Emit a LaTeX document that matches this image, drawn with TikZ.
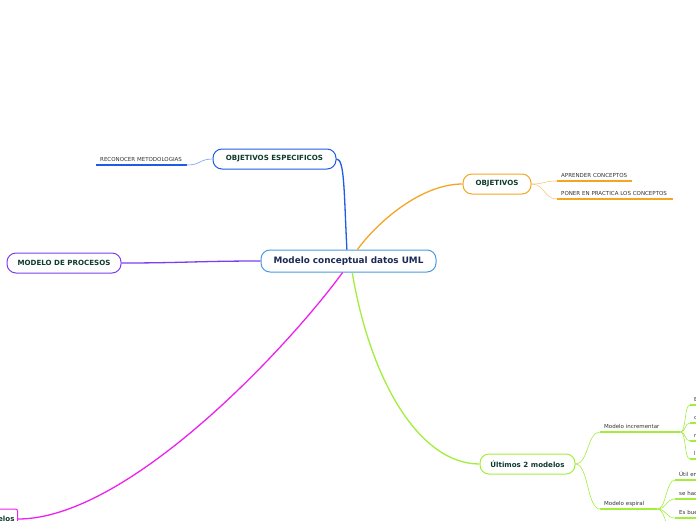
\documentclass[tikz,border=0pt]{standalone}
\usepackage{xcolor}
\usepackage{fontspec}
\setmainfont{DejaVu Sans}
\usepackage{tikz}

\definecolor{rootline}{HTML}{4A9BE0}
\definecolor{rootink}{HTML}{1B2A55}
\definecolor{nodeink}{HTML}{0E3B2F}
\definecolor{leafink}{HTML}{333333}
\definecolor{bluebr}{HTML}{1E5BE6}
\definecolor{orangebr}{HTML}{F5A524}
\definecolor{purplebr}{HTML}{7B3FF0}
\definecolor{greenbr}{HTML}{A3EE3C}
\definecolor{magentabr}{HTML}{EE22EE}

\begin{document}
\begin{tikzpicture}[x=1pt, y=-1pt]
    % Styles
    \tikzstyle{topic} = [rectangle, draw, fill=white, line width=1pt, rounded corners=9pt, minimum height=20pt, inner xsep=0pt, text=nodeink, font=\fontsize{7.1}{8}\selectfont\bfseries]
    \tikzstyle{leaf} = [inner xsep=4pt, inner ysep=2pt, text depth=1pt, align=left, anchor=south west, text=leafink, font=\fontsize{5.5}{6.5}\selectfont]
    \tikzstyle{branch} = [line width=1.3pt]
    \tikzstyle{twig} = [line width=0.6pt]
    \tikzstyle{underline} = [line width=1.6pt]

    \useasboundingbox[fill=white] (0,0) rectangle (696,520);

    % Centre
    \node[topic, draw=rootline, text=rootink, minimum width=175pt, minimum height=22pt, font=\fontsize{8.85}{10}\selectfont\bfseries] (root) at (348.5,261) {Modelo conceptual datos UML};

    % Objetivos especificos
    \node[topic, draw=bluebr, minimum width=123pt] (oe) at (274.5,159) {OBJETIVOS ESPECIFICOS};
    \node[leaf, text width=83pt] (rec) at (96,165) {RECONOCER METODOLOGIAS};

    % Objetivos
    \node[topic, draw=orangebr, minimum width=68pt] (obj) at (497,184) {OBJETIVOS};
    \node[leaf, text width=67pt] (apr) at (557,181) {APRENDER CONCEPTOS};
    \node[leaf, text width=108pt] (pon) at (557,199) {PONER EN PRACTICA LOS CONCEPTOS};

    % Modelo de procesos
    \node[topic, draw=purplebr, minimum width=114pt] (proc) at (64,263) {MODELO DE PROCESOS};

    % Ultimos 2 modelos
    \node[topic, draw=greenbr, minimum width=95pt] (ult) at (527.5,464) {Últimos 2 modelos};
    \node[leaf, text width=72pt] (inc) at (600,432) {Modelo incrementar};
    \node[leaf, text width=49pt] (esp) at (600,509) {Modelo espiral};
    \node[leaf, text width=40pt] (inca) at (690,405) {E};
    \node[leaf, text width=40pt] (incb) at (690,423) {c};
    \node[leaf, text width=40pt] (incc) at (690,441) {r};
    \node[leaf, text width=40pt] (incd) at (690,459) {l};
    \node[leaf, text width=40pt] (espa) at (675,480) {Útil en};
    \node[leaf, text width=40pt] (espb) at (675,499) {se hac};
    \node[leaf, text width=40pt] (espc) at (675,518) {Es bue};
    \coordinate (espd) at (675,537);

    % Modelos (cut at the edge)
    \node[topic, draw=magentabr, rounded corners=2pt, inner xsep=3pt, text width=60pt, align=right, anchor=east] (mod) at (18,519) {elos};

    % Underlines
    \draw[underline, bluebr] (rec.south west) -- (rec.south east);
    \draw[underline, orangebr] (apr.south west) -- (apr.south east);
    \draw[underline, orangebr] (pon.south west) -- (pon.south east);
    \foreach \n in {inc, esp, inca, incb, incc, incd, espa, espb, espc}
        \draw[underline, greenbr] (\n.south west) -- (\n.south east);

    % Branches
    \draw[branch, bluebr] (root.98) .. controls +(-3,-60) and +(8,0) .. (oe.east);
    \draw[branch, orangebr] (root.52) .. controls +(18,-25) and +(-43,0) .. (obj.west);
    \draw[branch, purplebr] (proc.east) .. controls +(60,0) and +(-60,0) .. (root.west);
    \draw[branch, greenbr] (root.-72) .. controls +(18,108) and +(-60,0) .. (ult.west);
    \draw[branch, magentabr] (root.-117) .. controls +(-55,75) and +(110,0) .. (mod.east);

    % Twigs
    \draw[twig, bluebr!60] (oe.west) .. controls +(-13,0) and +(13,0) .. (rec.south east);
    \draw[twig, orangebr!60] (obj.east) .. controls +(13,0) and +(-13,0) .. (apr.south west);
    \draw[twig, orangebr!60] (obj.east) .. controls +(13,0) and +(-13,0) .. (pon.south west);
    \draw[twig, greenbr] (ult.east) .. controls +(13,0) and +(-13,0) .. (inc.south west);
    \draw[twig, greenbr] (ult.east) .. controls +(13,0) and +(-13,0) .. (esp.south west);
    \foreach \n in {inca, incb, incc, incd}
        \draw[twig, greenbr] (inc.south east) .. controls +(6,0) and +(-6,0) .. (\n.south west);
    \foreach \n in {espa, espb, espc}
        \draw[twig, greenbr] (esp.south east) .. controls +(9,0) and +(-9,0) .. (\n.south west);
    \draw[twig, greenbr] (esp.south east) .. controls +(9,0) and +(-9,0) .. (espd);
\end{tikzpicture}
\end{document}
